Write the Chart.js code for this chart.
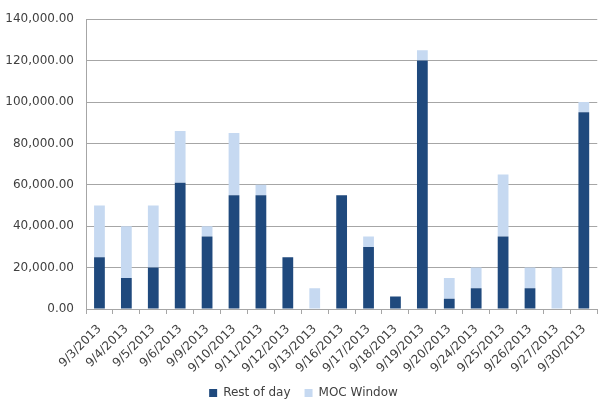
<!DOCTYPE html>
<html>
<head>
<meta charset="utf-8">
<script src="https://cdn.jsdelivr.net/npm/chart.js@4"></script>
<style>
  html, body { margin: 0; padding: 0; background: #ffffff; }
  #wrap { width: 602px; height: 400px; }
</style>
</head>
<body>
<div id="wrap"><canvas id="moc-chart"></canvas></div>
<script>
const dates = ['9/3/2013', '9/4/2013', '9/5/2013', '9/6/2013', '9/9/2013', '9/10/2013', '9/11/2013',
  '9/12/2013', '9/13/2013', '9/16/2013', '9/17/2013', '9/18/2013', '9/19/2013', '9/20/2013',
  '9/24/2013', '9/25/2013', '9/26/2013', '9/27/2013', '9/30/2013']
const restOfDay = [25000, 15000, 20000, 61000, 35000, 55000, 55000, 25000, 0, 55000, 30000, 6000,
  120000, 5000, 10000, 35000, 10000, 0, 95000]
const mocWindow = [25000, 25000, 30000, 25000, 5000, 30000, 5000, 0, 10000, 0, 5000, 0,
  5000, 10000, 10000, 30000, 10000, 20000, 5000]

const chartDefaults = {
  gridColor: '#a6a6a6',
  textColor: '#404040',
  font: { family: 'DejaVu Sans', size: 12 }
}

const ctx = document.getElementById('moc-chart')

new Chart(ctx, {
  type: 'bar',
  data: {
    labels: dates,
    datasets: [{
      label: 'Rest of day',
      data: restOfDay,
      backgroundColor: '#1f497d',
      barPercentage: 0.4,
      categoryPercentage: 1
    }, {
      label: 'MOC Window',
      data: mocWindow,
      backgroundColor: '#c6d9f1',
      barPercentage: 0.4,
      categoryPercentage: 1
    }]
  },
  options: {
    responsive: true,
    maintainAspectRatio: false,
    animation: false,
    layout: {
      padding: { top: 6, right: -5, left: 0, bottom: -9 }
    },
    plugins: {
      legend: {
        position: 'bottom',
        labels: {
          boxWidth: 8,
          boxHeight: 8,
          color: chartDefaults.textColor,
          font: chartDefaults.font,
          padding: 14
        }
      },
      tooltip: { enabled: false }
    },
    scales: {
      x: {
        stacked: true,
        grid: {
          offset: true,
          drawOnChartArea: false,
          color: chartDefaults.gridColor,
          tickLength: 5
        },
        border: { color: chartDefaults.gridColor },
        ticks: {
          color: chartDefaults.textColor,
          font: chartDefaults.font,
          maxRotation: 45,
          minRotation: 45,
          autoSkip: false,
          padding: 8
        },
        afterFit: scale => { scale.height = 64 }
      },
      y: {
        stacked: true,
        min: 0,
        max: 140000,
        grid: {
          color: chartDefaults.gridColor,
          drawTicks: false
        },
        border: { color: chartDefaults.gridColor },
        ticks: {
          stepSize: 20000,
          color: chartDefaults.textColor,
          font: chartDefaults.font,
          padding: 12,
          callback: v => v.toLocaleString('en-US', { minimumFractionDigits: 2, maximumFractionDigits: 2 })
        },
        afterFit: scale => { scale.width = 86 }
      }
    }
  }
})
</script>
</body>
</html>
